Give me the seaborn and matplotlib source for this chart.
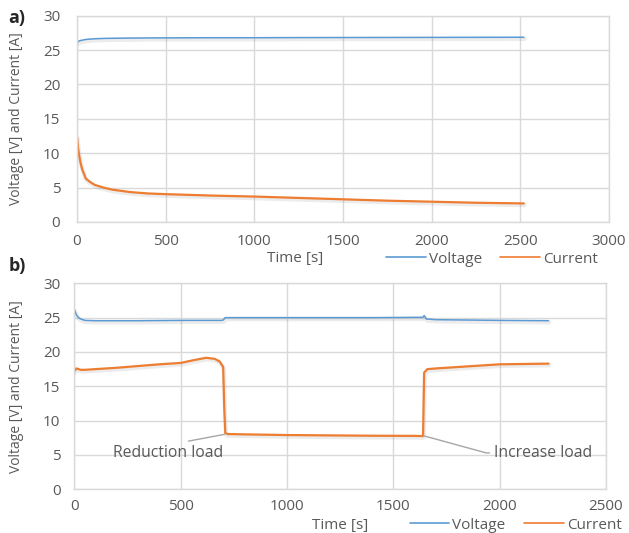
# ------------------ Import Libraries ------------------
import matplotlib
matplotlib.use("Agg")
import matplotlib.pyplot as plt
import matplotlib.patheffects as pe
import seaborn as sns

# ------------------ Data ------------------
# a) constant load run
time_a = [0, 5, 10, 20, 30, 50, 75, 100, 150, 200, 300, 400, 500, 750,
          1000, 1250, 1500, 1750, 2000, 2250, 2520]
current_a = [12.4, 11.0, 10.0, 8.6, 7.6, 6.3, 5.8, 5.4, 5.0, 4.7, 4.35, 4.15,
             4.05, 3.85, 3.7, 3.5, 3.3, 3.1, 2.95, 2.8, 2.7]
voltage_a = [26.1, 26.2, 26.3, 26.4, 26.45, 26.55, 26.6, 26.65, 26.7, 26.72,
             26.75, 26.77, 26.78, 26.8, 26.8, 26.82, 26.83, 26.84, 26.85,
             26.86, 26.87]

# b) load change run
time_b_v = [0, 10, 20, 30, 50, 100, 300, 500, 690, 700, 710, 1000, 1400,
            1640, 1645, 1655, 1700, 2000, 2230]
voltage_b = [26.2, 25.4, 25.0, 24.8, 24.6, 24.55, 24.55, 24.6, 24.6, 24.65,
             25.0, 25.0, 25.0, 25.05, 25.3, 24.8, 24.7, 24.6, 24.55]

time_b_c = [0, 10, 20, 30, 50, 100, 200, 300, 400, 500, 560, 620, 660, 684,
            700, 705, 710, 720, 800, 1000, 1200, 1400, 1600, 1640, 1645,
            1660, 1700, 1800, 2000, 2230]
current_b = [17.2, 17.6, 17.5, 17.4, 17.4, 17.5, 17.7, 17.95, 18.2, 18.4,
             18.8, 19.15, 19.0, 18.6, 17.8, 12.0, 8.2, 8.05, 8.0, 7.9, 7.85,
             7.8, 7.78, 7.75, 17.0, 17.5, 17.6, 17.8, 18.2, 18.3]

VOLT_C = '#5B9BD5'
CURR_C = '#ED7D31'
GRID_C = '#D9D9D9'
TEXT_C = '#595959'

# ------------------ Style ------------------
sns.set_style("white")
plt.rcParams['font.family'] = ['Open Sans', 'DejaVu Sans']
plt.rcParams['font.size'] = 11

fig = plt.figure(figsize=(6.29, 5.33), dpi=100)
ax_a = fig.add_axes([0.1224, 0.5835, 0.8458, 0.387])
ax_b = fig.add_axes([0.1181, 0.082, 0.8453, 0.3865])

shadow = [pe.SimpleLineShadow(offset=(0.5, -1.2), shadow_color='gray',
                              alpha=0.15, linewidth=3.0), pe.Normal()]


def style_axes(ax, xmax, ypad, xpad):
    ax.set_ylim(0, 30)
    ax.set_xlim(0, xmax)
    ax.set_yticks(range(0, 31, 5))
    ax.set_xticks(range(0, xmax + 1, 500))
    ax.grid(True, color=GRID_C, lw=1)
    ax.set_axisbelow(True)
    for s in ax.spines.values():
        s.set_color(GRID_C)
        s.set_linewidth(1)
    ax.tick_params(axis='y', length=0, pad=ypad, labelcolor=TEXT_C, labelsize=11)
    ax.tick_params(axis='x', length=0, pad=xpad, labelcolor=TEXT_C, labelsize=11)
    ax.set_ylabel('Voltage [V] and Current [A]', color=TEXT_C, fontsize=10)


def add_legend(ax, xc, yc):
    leg = ax.legend(loc='center', bbox_to_anchor=(xc, yc), ncol=2, frameon=False,
                    handlelength=2.6, columnspacing=1.2, handletextpad=0.2,
                    labelcolor=TEXT_C, fontsize=11)
    for ln in leg.get_lines():
        ln.set_path_effects([])
        ln.set_linewidth(1.2)


# ------------------ Panel a ------------------
sns.lineplot(x=time_a, y=voltage_a, ax=ax_a, color=VOLT_C, lw=1.1,
             label='Voltage', path_effects=shadow)
sns.lineplot(x=time_a, y=current_a, ax=ax_a, color=CURR_C, lw=1.6,
             label='Current', path_effects=shadow)
style_axes(ax_a, 3000, 12, 9)
ax_a.yaxis.set_label_coords(-0.1, 0.5)
ax_a.set_xlabel('Time [s]', color=TEXT_C, fontsize=11)
ax_a.xaxis.set_label_coords(0.41, -0.14)
add_legend(ax_a, 0.78, -0.18)
fig.text(0.013, 0.967, 'a)', fontsize=13, fontweight='bold', ha='left', va='center')

# ------------------ Panel b ------------------
sns.lineplot(x=time_b_v, y=voltage_b, ax=ax_b, color=VOLT_C, lw=1.1,
             label='Voltage', path_effects=shadow)
sns.lineplot(x=time_b_c, y=current_b, ax=ax_b, color=CURR_C, lw=1.6,
             label='Current', path_effects=shadow)
style_axes(ax_b, 2500, 10, 7)
ax_b.yaxis.set_label_coords(-0.095, 0.5)
ax_b.set_xlabel('Time [s]', color=TEXT_C, fontsize=11)
ax_b.xaxis.set_label_coords(0.5, -0.14)
add_legend(ax_b, 0.83, -0.175)
fig.text(0.013, 0.5, 'b)', fontsize=13, fontweight='bold', ha='left', va='center')

ax_b.annotate('Reduction load', xy=(706, 8.0), xytext=(442, 5.3),
              ha='center', va='center', color=TEXT_C, fontsize=11.3,
              arrowprops=dict(arrowstyle='-', color='#A6A6A6', lw=1,
                              relpos=(0.5, 1.0), shrinkA=2, shrinkB=0))
ax_b.annotate('Increase load', xy=(1642, 7.8), xytext=(2205, 5.3),
              ha='center', va='center', color=TEXT_C, fontsize=11.3,
              arrowprops=dict(arrowstyle='-', color='#A6A6A6', lw=1,
                              relpos=(0.0, 0.5), shrinkA=1, shrinkB=0,
                              connectionstyle='arc,angleA=180,armA=8,rad=0'))

fig.savefig('out.png', dpi=100)
